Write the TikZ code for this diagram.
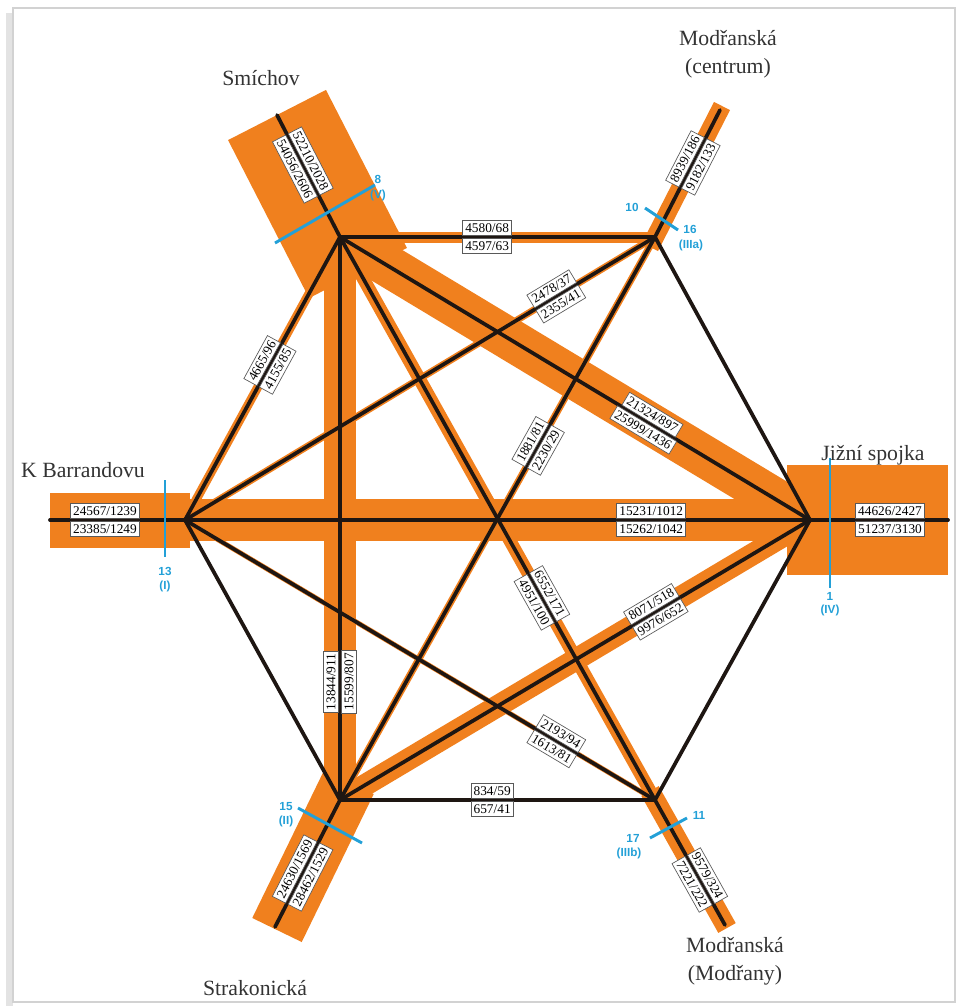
\documentclass[tikz,border=0pt]{standalone}
\usepackage{fontspec}
\setmainfont{Liberation Serif}
\newfontfamily\cutfont{Liberation Sans}
\usetikzlibrary{calc}

\definecolor{flowcol}{RGB}{240,128,30}
\definecolor{cutcol}{RGB}{35,160,215}
\definecolor{linkcol}{RGB}{30,22,18}

\tikzset{
  band/.style={draw=flowcol, line width=#1*0.75pt, line cap=butt},
  link/.style={draw=linkcol, line width=2.8pt, line cap=round, line join=round},
  numbox/.style={draw=black!65, fill=white, line width=0.5pt, inner xsep=2pt, inner ysep=2.2pt, outer sep=1.1pt, font=\fontsize{10}{11}\selectfont},
  cutline/.style={draw=cutcol, line width=2.2pt},
  cutlab/.style={text=cutcol, inner sep=0.75pt, font=\cutfont\bfseries\fontsize{8.8}{10}\selectfont},
  place/.style={text=black!80, inner sep=0.75pt, font=\fontsize{16.3}{19}\selectfont},
}

\begin{document}
\begin{tikzpicture}[x=0.75pt,y=0.75pt,yscale=-1,xscale=1]
\useasboundingbox (0,0) rectangle (959,1006);

%Frame
\fill[gray!22] (6,13) rectangle (13,1006);
\draw[gray!35, line width=0.9pt] (13,8) rectangle (955,1002);

%Junctions
\coordinate (S) at (340,237);
\coordinate (MC) at (655,237);
\coordinate (J) at (810,520);
\coordinate (MM) at (655,800);
\coordinate (St) at (340,800);
\coordinate (B) at (185,520);
%Approach ends
\coordinate (Sa) at (277,115);
\coordinate (Ma) at (720,110);
\coordinate (Ba) at (50,520);
\coordinate (Ja) at (948,520);
\coordinate (Sta) at (275,927);
\coordinate (MMa) at (725,925);

%Flow bands
\draw[band=110] (358,273) -- (Sa);
\draw[band=18] (650,247) -- (722,106);
\draw[band=55] (Ba) -- (190,520);
\draw[band=110] (787,520) -- (Ja);
\draw[band=55] (349,782) -- (277,930);
\draw[band=20] (650,791) -- (727,928);
\draw[band=42] (S) -- (J);
\draw[band=42] (B) -- (J);
\draw[band=32] (S) -- (St);
\draw[band=22] (St) -- (J);
\draw[band=13] (S) -- (MM);
\draw[band=11] (S) -- (MC);
\draw[band=9] (B) -- (S);
\draw[band=7] (MC) -- (B);
\draw[band=7] (MC) -- (St);
\draw[band=5] (B) -- (MM);

%Straight Lines
\draw[link] (S) -- (MC) -- (J) -- (MM) -- (St) -- (B) -- cycle;
\draw[link] (S) -- (J);
\draw[link] (S) -- (MM);
\draw[link] (S) -- (St);
\draw[link] (MC) -- (B);
\draw[link] (MC) -- (St);
\draw[link] (B) -- (J);
\draw[link] (B) -- (MM);
\draw[link] (St) -- (J);
\draw[link] (S) -- (Sa);
\draw[link] (MC) -- (Ma);
\draw[link] (B) -- (Ba);
\draw[link] (J) -- (Ja);
\draw[link] (St) -- (Sta);
\draw[link] (MM) -- (MMa);

%Cross sections
\coordinate (c8a) at (275,243); \coordinate (c8b) at (375,185);
\coordinate (c10a) at (645,208); \coordinate (c10b) at (678,230);
\coordinate (c13a) at (165,480); \coordinate (c13b) at (165,557);
\coordinate (c1a) at (830,458); \coordinate (c1b) at (830,588);
\coordinate (c15a) at (298,808); \coordinate (c15b) at (362,843);
\coordinate (c11a) at (687,818); \coordinate (c11b) at (650,838);
\draw[cutline] (c8a) -- (c8b);
\draw[cutline] (c10a) -- (c10b);
\draw[cutline] (c13a) -- (c13b);
\draw[cutline] (c1a) -- (c1b);
\draw[cutline] (c15a) -- (c15b);
\draw[cutline] (c11a) -- (c11b);

% Text Node
\node[cutlab] (t8) at (378,179) {8};
\node[cutlab] (t8r) at (378,195) {(V)};
\node[cutlab] (t10) at (632,207) {10};
\node[cutlab] (t16) at (690,229) {16};
\node[cutlab] (t16r) at (691,245) {(IIIa)};
\node[cutlab] (t13) at (165,571) {13};
\node[cutlab] (t13r) at (165,586) {(I)};
\node[cutlab] (t1) at (830,596) {1};
\node[cutlab] (t1r) at (830,610) {(IV)};
\node[cutlab] (t15) at (286,807) {15};
\node[cutlab] (t15r) at (286,821) {(II)};
\node[cutlab] (t11) at (699,815) {11};
\node[cutlab] (t17) at (633,838) {17};
\node[cutlab] (t17r) at (629,853) {(IIIb)};

% Text Node
\node[place] (smichov) at (261,78) {Smíchov};
\node[place] (modrc1) at (728,38) {Modřanská};
\node[place] (modrc2) at (728,68) {(centrum)};
\node[place] (barr) at (83,470) {K Barrandovu};
\node[place] (jizni) at (873,455) {Jižní spojka};
\node[place] (strak) at (255,988) {Strakonická};
\node[place] (modrm1) at (735,945) {Modřanská};
\node[place] (modrm2) at (735,975) {(Modřany)};

% Flow labels
\node[numbox, anchor=south] (smc1) at ($(S)!0.467!(MC)$) {4580/68};
\node[numbox, anchor=north] (smc2) at ($(S)!0.467!(MC)$) {4597/63};
\node[numbox, rotate=31.06, anchor=south] (mcb1) at ($(B)!0.79!(MC)$) {2478/37};
\node[numbox, rotate=31.06, anchor=north] (mcb2) at ($(B)!0.79!(MC)$) {2355/41};
\node[numbox, rotate=61.29, anchor=south] (bs1) at ($(B)!0.548!(S)$) {4665/96};
\node[numbox, rotate=61.29, anchor=north] (bs2) at ($(B)!0.548!(S)$) {4155/85};
\node[numbox, rotate=-31.06, anchor=south] (sj1) at ($(S)!0.655!(J)$) {21324/897};
\node[numbox, rotate=-31.06, anchor=north] (sj2) at ($(S)!0.655!(J)$) {25999/1436};
\node[numbox, rotate=60.78, anchor=south] (mcst1) at ($(St)!0.629!(MC)$) {1881/81};
\node[numbox, rotate=60.78, anchor=north] (mcst2) at ($(St)!0.629!(MC)$) {2230/29};
\node[numbox, anchor=south] (bj1) at ($(B)!0.746!(J)$) {15231/1012};
\node[numbox, anchor=north] (bj2) at ($(B)!0.746!(J)$) {15262/1042};
\node[numbox, rotate=-60.78, anchor=south] (smm1) at ($(S)!0.641!(MM)$) {6552/171};
\node[numbox, rotate=-60.78, anchor=north] (smm2) at ($(S)!0.641!(MM)$) {4951/100};
\node[numbox, rotate=30.78, anchor=south] (stj1) at ($(St)!0.672!(J)$) {8071/518};
\node[numbox, rotate=30.78, anchor=north] (stj2) at ($(St)!0.672!(J)$) {9976/652};
\node[numbox, rotate=-30.78, anchor=south] (bmm1) at ($(B)!0.79!(MM)$) {2193/94};
\node[numbox, rotate=-30.78, anchor=north] (bmm2) at ($(B)!0.79!(MM)$) {1613/81};
\node[numbox, rotate=90, anchor=south] (sst1) at ($(St)!0.21!(S)$) {13844/911};
\node[numbox, rotate=90, anchor=north] (sst2) at ($(St)!0.21!(S)$) {15599/807};
\node[numbox, anchor=south] (stmm1) at ($(St)!0.483!(MM)$) {834/59};
\node[numbox, anchor=north] (stmm2) at ($(St)!0.483!(MM)$) {657/41};
% Approach labels
\node[numbox, rotate=-62.7, anchor=south] (sa1) at ($(S)!0.59!(Sa)$) {52210/2028};
\node[numbox, rotate=-62.7, anchor=north] (sa2) at ($(S)!0.59!(Sa)$) {54056/2606};
\node[numbox, rotate=62.9, anchor=south] (ma1) at ($(MC)!0.583!(Ma)$) {8939/186};
\node[numbox, rotate=62.9, anchor=north] (ma2) at ($(MC)!0.583!(Ma)$) {9182/133};
\node[numbox, anchor=south] (ba1) at ($(Ba)!0.407!(B)$) {24567/1239};
\node[numbox, anchor=north] (ba2) at ($(Ba)!0.407!(B)$) {23385/1249};
\node[numbox, anchor=south] (ja1) at ($(J)!0.58!(Ja)$) {44626/2427};
\node[numbox, anchor=north] (ja2) at ($(J)!0.58!(Ja)$) {51237/3130};
\node[numbox, rotate=62.9, anchor=south] (sta1) at ($(St)!0.575!(Sta)$) {24630/1569};
\node[numbox, rotate=62.9, anchor=north] (sta2) at ($(St)!0.575!(Sta)$) {28462/1529};
\node[numbox, rotate=-60.75, anchor=south] (mma1) at ($(MM)!0.64!(MMa)$) {9579/324};
\node[numbox, rotate=-60.75, anchor=north] (mma2) at ($(MM)!0.64!(MMa)$) {7221/222};

\end{tikzpicture}
\end{document}
